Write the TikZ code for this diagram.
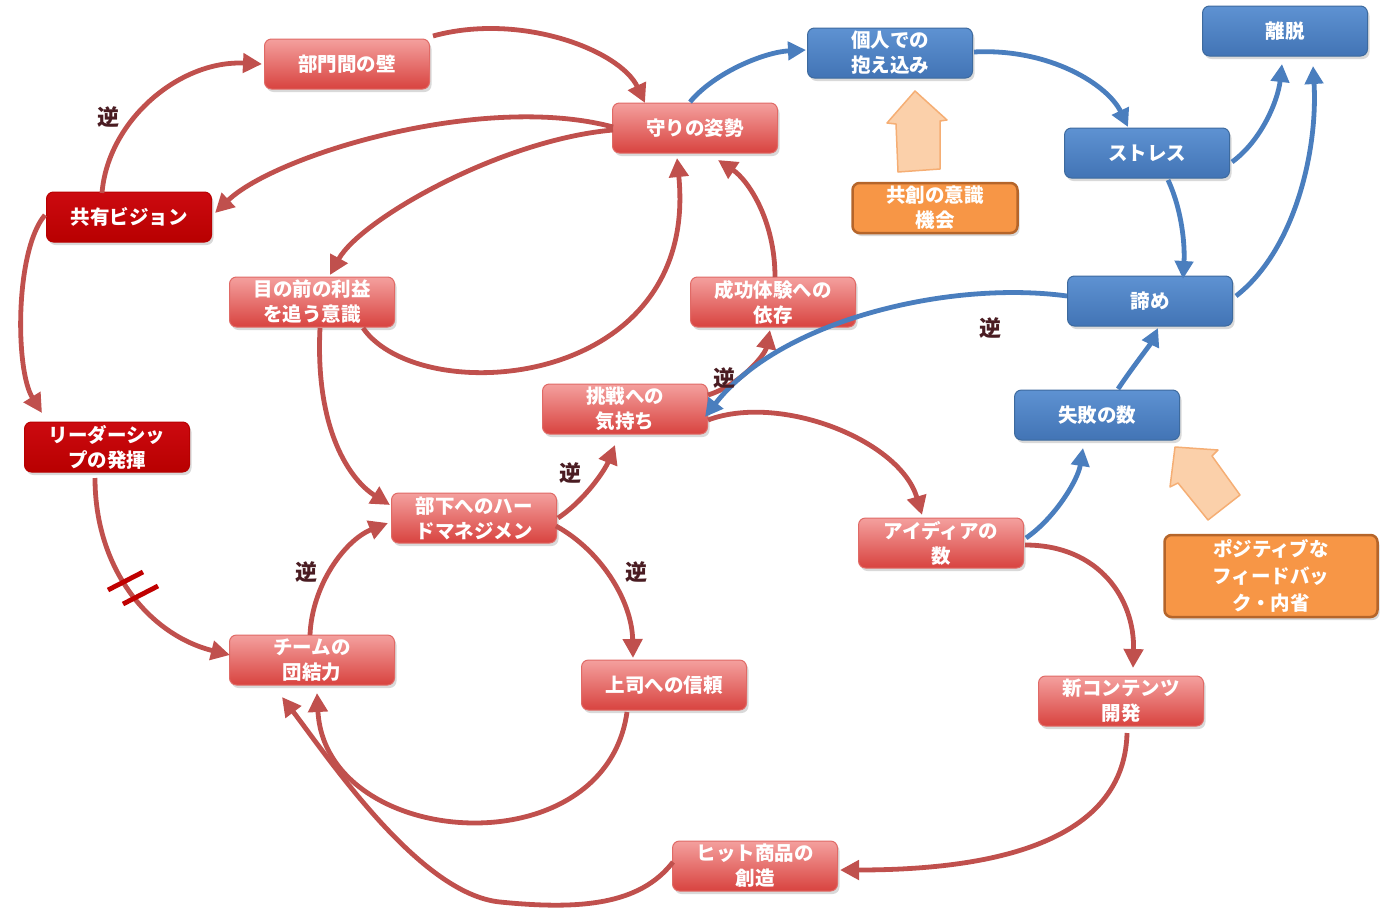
\documentclass[tikz,border=0pt]{standalone}
\usepackage{fontspec}
\setmainfont{Noto Sans CJK JP}
\usetikzlibrary{arrows.meta,shadows,calc}
\definecolor{rtop}{HTML}{F4A09E}
\definecolor{rbot}{HTML}{D8433F}
\definecolor{rdraw}{HTML}{E06A66}
\definecolor{dtop}{HTML}{CC0A10}
\definecolor{dbot}{HTML}{B80000}
\definecolor{btop}{HTML}{5E92D2}
\definecolor{bbot}{HTML}{4274B5}
\definecolor{bdraw}{HTML}{3D6A9E}
\definecolor{ofill}{HTML}{F79646}
\definecolor{odraw}{HTML}{B5652A}
\definecolor{rline}{HTML}{C0504D}
\definecolor{bline}{HTML}{4A7EBE}
\definecolor{gcol}{HTML}{4A1C22}
\definecolor{barfill}{HTML}{FBD0AA}
\definecolor{bardraw}{HTML}{F5AE74}
\definecolor{slash}{HTML}{C00000}
\begin{document}
\begin{tikzpicture}[x=1pt,y=-1pt,
  box/.style={rounded corners=7pt, minimum width=165pt, minimum height=50pt, inner sep=0pt,
    align=center, text=white, font=\fontsize{19.5}{25}\selectfont\bfseries,
    drop shadow={opacity=0.3,shadow xshift=2pt,shadow yshift=-3pt}},
  rbox/.style={box, top color=rtop, bottom color=rbot, draw=rdraw, line width=1pt},
  dbox/.style={box, top color=dtop, bottom color=dbot, draw=dbot, line width=1pt},
  bbox/.style={box, top color=btop, bottom color=bbot, draw=bdraw, line width=1pt},
  obox/.style={box, fill=ofill, draw=odraw, line width=2.5pt},
  rarr/.style={draw=rline, line width=4.8pt, -{Triangle[length=19pt,width=19pt]}},
  barr/.style={draw=bline, line width=4.8pt, -{Triangle[length=18pt,width=18pt]}},
  gyaku/.style={text=gcol, font=\fontsize{22}{22}\selectfont\bfseries},
  blockarr/.style={fill=barfill, draw=bardraw, line width=1.5pt, line join=round},
  slashmark/.style={draw=slash, line width=4.8pt}
]
\useasboundingbox (0,0) rectangle (1381,921);

% nodes
\node[rbox] (kabe) at (347,64) {部門間の壁};
\node[rbox] (mamori) at (695,128) {守りの姿勢};
\node[bbox] (kojin) at (890,53) {個人での\\抱え込み};
\node[bbox] (ridatsu) at (1285,31) {離脱};
\node[bbox] (stress) at (1147,153) {ストレス};
\node[obox] (kyoso) at (935,208) {共創の意識\\機会};
\node[bbox] (akirame) at (1150,301) {諦め};
\node[bbox] (shippai) at (1097,415) {失敗の数};
\node[obox, minimum width=213pt, minimum height=82pt, font=\fontsize{19.5}{27}\selectfont\bfseries] (posi) at (1271,576) {ポジティブな\\フィードバッ\\ク・内省};
\node[dbox] (vision) at (129,217) {共有ビジョン};
\node[dbox] (leader) at (107,447) {リーダーシッ\\プの発揮};
\node[rbox] (rieki) at (312,302) {目の前の利益\\を追う意識};
\node[rbox] (seiko) at (773,302) {成功体験への\\依存};
\node[rbox] (chosen) at (625,409) {挑戦への\\気持ち};
\node[rbox] (hard) at (474,518) {部下へのハー\\ドマネジメン};
\node[rbox] (idea) at (941,543) {アイディアの\\数};
\node[rbox] (team) at (312,660) {チームの\\団結力};
\node[rbox] (joshi) at (664,685) {上司への信頼};
\node[rbox] (shin) at (1121,701) {新コンテンツ\\開発};
\node[rbox] (hit) at (755,866) {ヒット商品の\\創造};

% block arrows
\draw[blockarr] (915,91) -- (947,120) -- (940,121) -- (940,169) -- (898,172) -- (896,124) -- (887,123) -- cycle;
\draw[blockarr] (1175,447) -- (1218,450) -- (1212,456) -- (1240,495) -- (1208,520) -- (1178,483) -- (1170,487) -- cycle;

% red connectors
\draw[rarr] ($(vision)+(-27,-24)$) .. controls (108,120) and (180,60) .. ($(kabe)+(-85,0)$);
\draw[rarr] ($(kabe)+(86,-28)$) .. controls (520,12) and (620,50) .. ($(mamori)+(-50,-25)$);
\draw[rarr] ($(mamori)+(-82,-1)$) .. controls (483,92) and (275,155) .. ($(vision)+(86,-4)$);
\draw[rarr] ($(mamori)+(-82,2)$) .. controls (500,140) and (360,220) .. ($(rieki)+(18,-27)$);
\draw[rarr] ($(rieki)+(51,26)$) .. controls (420,410) and (700,390) .. ($(mamori)+(-18,30)$);
\draw[rarr] ($(seiko)+(2,-25)$) .. controls (775,220) and (748,180) .. ($(mamori)+(23,32)$);
\draw[rarr] ($(chosen)+(83,-14)$) .. controls (740,385) and (765,355) .. ($(seiko)+(-3,28)$);
\draw[rarr] ($(vision)+(-84,-2)$) .. controls (15,250) and (15,370) .. ($(leader)+(-65,-34)$);
\draw[rarr] ($(leader)+(-12,31)$) .. controls (95,570) and (150,635) .. ($(team)+(-82,-5)$);
\draw[rarr] ($(team)+(-2,-25)$) .. controls (312,585) and (345,540) .. ($(hard)+(-86,5)$);
\draw[rarr] ($(rieki)+(8,26)$) .. controls (315,430) and (350,480) .. ($(hard)+(-84,-13)$);
\draw[rarr] ($(hard)+(84,0)$) .. controls (585,500) and (605,470) .. ($(chosen)+(-10,36)$);
\draw[rarr] ($(hard)+(82,8)$) .. controls (600,550) and (632,600) .. ($(joshi)+(-31,-27)$);
\draw[rarr] ($(joshi)+(-37,27)$) .. controls (605,870) and (325,850) .. ($(team)+(5,33)$);
\draw[rarr] ($(hit)+(-82,-4)$) .. controls (640,905) and (580,910) .. (500,902) .. controls (420,894) and (330,760) .. ($(team)+(-30,37)$);
\draw[rarr] ($(shin)+(6,32)$) .. controls (1125,820) and (1040,870) .. ($(hit)+(85,4)$);
\draw[rarr] ($(chosen)+(83,11)$) .. controls (780,393) and (900,440) .. ($(idea)+(-19,-28)$);
\draw[rarr] ($(idea)+(84,2)$) .. controls (1100,545) and (1135,600) .. ($(shin)+(12,-33)$);

% delay mark
\draw[slashmark] (108,590) -- (143,572);
\draw[slashmark] (123,604) -- (158,586);

% blue connectors
\draw[barr] ($(mamori)+(-5,-26)$) .. controls (715,72) and (765,52) .. ($(kojin)+(-84,-3)$);
\draw[barr] ($(kojin)+(84,-1)$) .. controls (1050,48) and (1108,85) .. ($(stress)+(-19,-26)$);
\draw[barr] ($(stress)+(85,9)$) .. controls (1262,140) and (1278,100) .. ($(ridatsu)+(-3,33)$);
\draw[barr] ($(stress)+(21,27)$) .. controls (1182,210) and (1185,245) .. ($(akirame)+(33,-22)$);
\draw[barr] ($(akirame)+(86,-5)$) .. controls (1295,250) and (1318,150) .. ($(ridatsu)+(28,35)$);
\draw[barr] ($(akirame)+(-83,-5)$) .. controls (950,280) and (780,320) .. ($(chosen)+(80,8)$);
\draw[barr] ($(idea)+(85,-5)$) .. controls (1055,518) and (1078,480) .. ($(shippai)+(-14,33)$);
\draw[barr] ($(shippai)+(21,-26)$) .. controls (1132,368) and (1150,345) .. ($(akirame)+(8,27)$);

% labels
\node[gyaku] (g1) at (108,117) {逆};
\node[gyaku] (g2) at (724,378) {逆};
\node[gyaku] (g3) at (990,328) {逆};
\node[gyaku] (g4) at (570,473) {逆};
\node[gyaku] (g5) at (306,572) {逆};
\node[gyaku] (g6) at (636,572) {逆};
\end{tikzpicture}
\end{document}
